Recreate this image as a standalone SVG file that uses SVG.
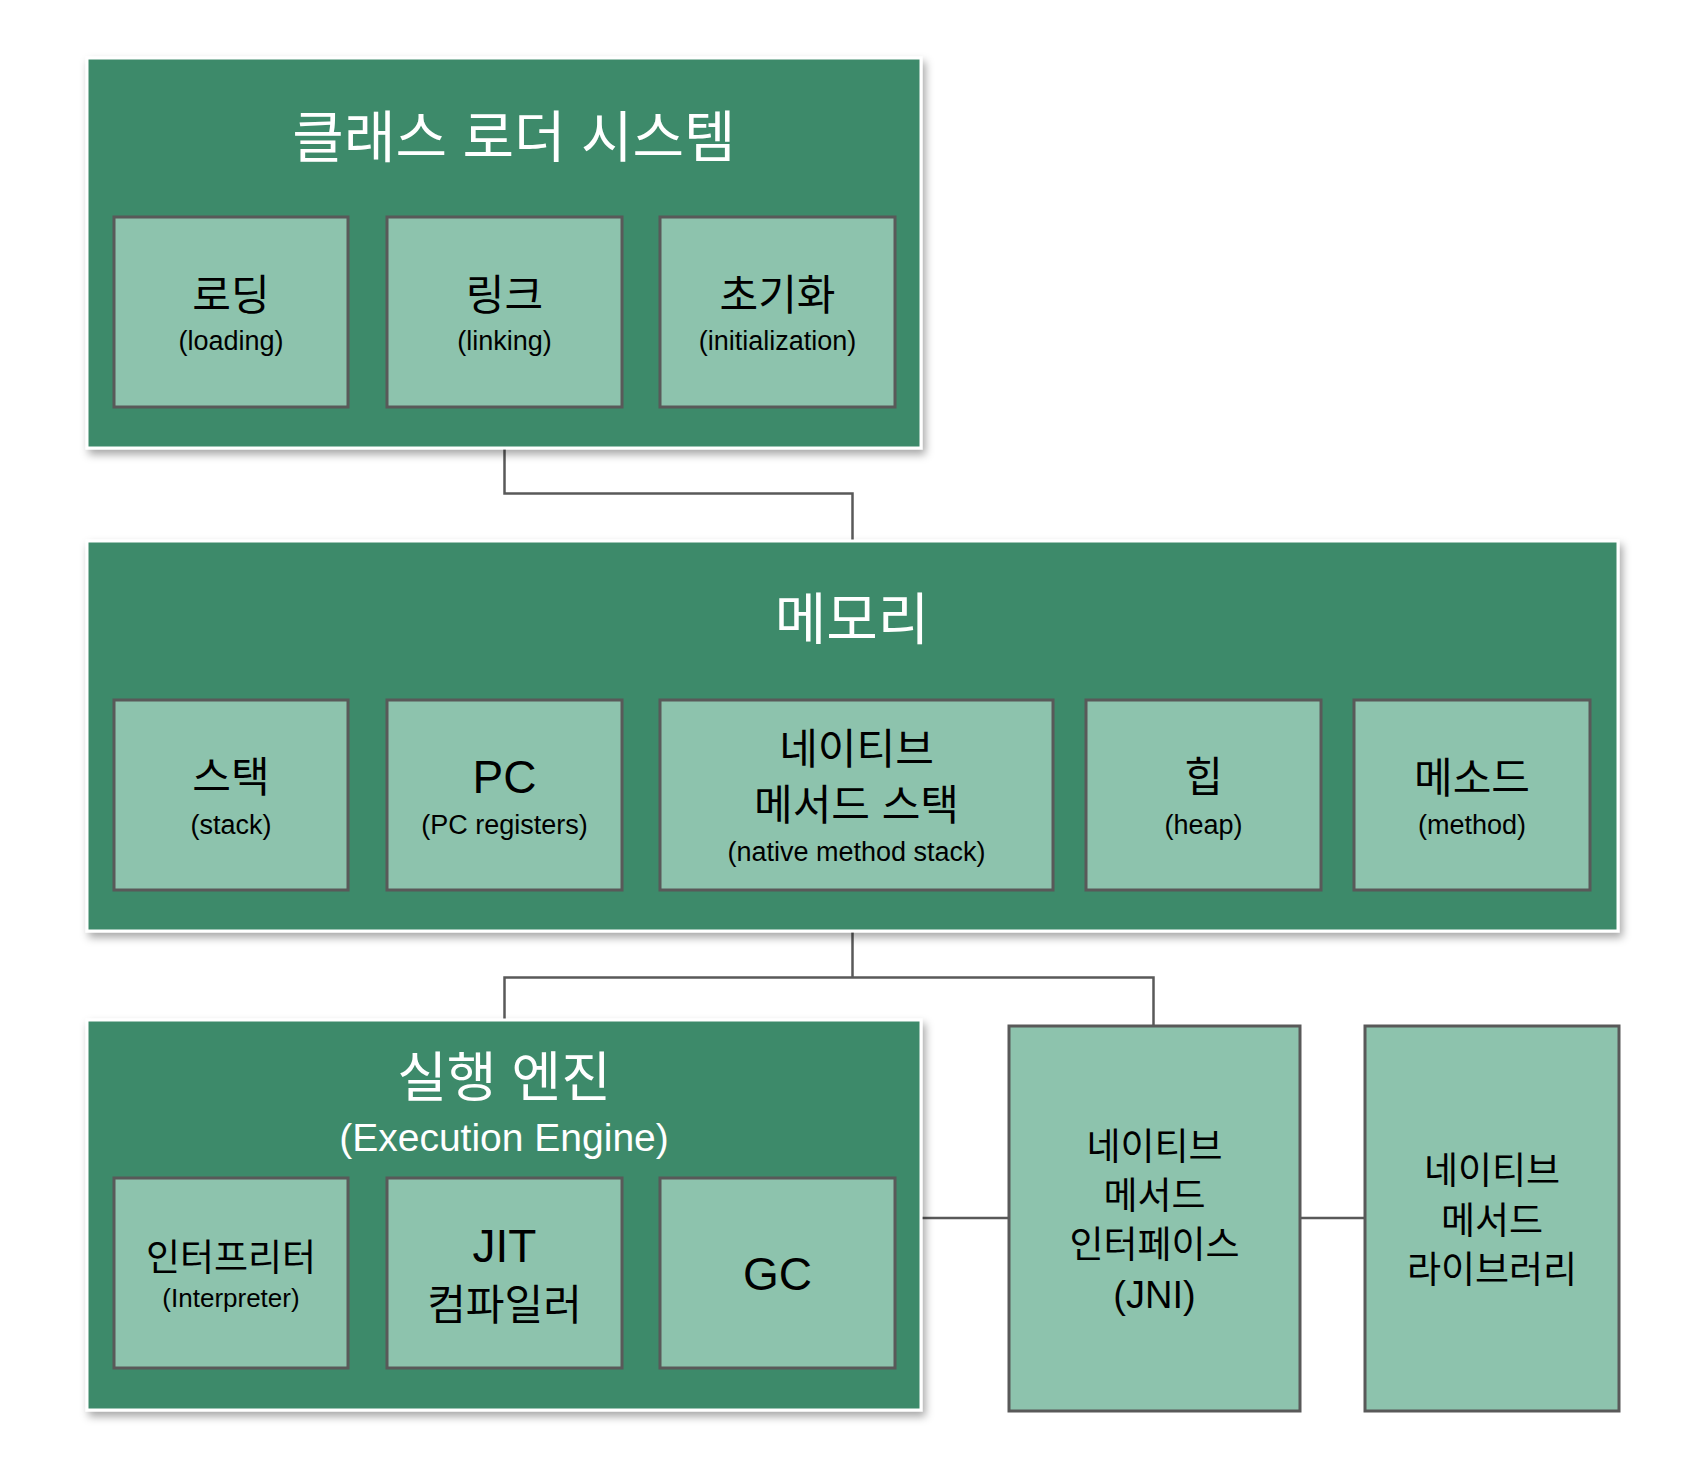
<svg xmlns="http://www.w3.org/2000/svg" width="1704" height="1480" viewBox="0 0 1704 1480">
<defs>
<filter id="sh" x="-5%" y="-5%" width="112%" height="115%">
<feDropShadow dx="3" dy="5" stdDeviation="4" flood-color="#000" flood-opacity="0.35"/>
</filter>
<style>
.outer{fill:#3c8a6a;stroke:#fff;stroke-width:3;filter:url(#sh)}
.inner{fill:#8dc3ad;stroke:#595959;stroke-width:3}
.conn{fill:none;stroke:#595959;stroke-width:2.5}
text{font-family:"Liberation Sans","Noto Sans CJK KR",sans-serif;text-anchor:middle;fill:#000}
.title{fill:#fff;font-size:56px}
.sub{fill:#fff;font-size:39px}
.ko{font-size:42px}
.en{font-size:27px}
.big{font-size:46px}
.ko2{font-size:37px}
.en2{font-size:26px}
</style>
</defs>
<rect width="1704" height="1480" fill="#fff"/>
<g id="connectors">
<path class="conn" d="M504.5 449 V493.5 H852.5 V540"/>
<path class="conn" d="M852.5 932 V977.5"/>
<path class="conn" d="M504.5 1019 V977.5 H1153.5 V1026"/>
<path class="conn" d="M922 1218 H1009"/>
<path class="conn" d="M1300 1218 H1365"/>
</g>
<g id="class-loader">
<rect class="outer" x="87" y="58" width="834" height="390"/>
<text class="title" x="514" y="157">클래스 로더 시스템</text>
</g>
<g id="loading">
<rect class="inner" x="114" y="217" width="234" height="190"/>
<text class="ko" x="231" y="310">로딩</text>
<text class="en" x="231" y="350">(loading)</text>
</g>
<g id="linking">
<rect class="inner" x="387" y="217" width="235" height="190"/>
<text class="ko" x="504.5" y="310">링크</text>
<text class="en" x="504.5" y="350">(linking)</text>
</g>
<g id="initialization">
<rect class="inner" x="660" y="217" width="235" height="190"/>
<text class="ko" x="777.5" y="310">초기화</text>
<text class="en" x="777.5" y="350">(initialization)</text>
</g>
<g id="memory">
<rect class="outer" x="87" y="541" width="1531" height="390"/>
<text class="title" x="852" y="639">메모리</text>
</g>
<g id="stack">
<rect class="inner" x="114" y="700" width="234" height="190"/>
<text class="ko" x="231" y="792">스택</text>
<text class="en" x="231" y="834">(stack)</text>
</g>
<g id="pc">
<rect class="inner" x="387" y="700" width="235" height="190"/>
<text class="big" x="504.5" y="793">PC</text>
<text class="en" x="504.5" y="834">(PC registers)</text>
</g>
<g id="native-method-stack">
<rect class="inner" x="660" y="700" width="393" height="190"/>
<text class="ko" x="856.5" y="764">네이티브</text>
<text class="ko" x="856.5" y="820">메서드 스택</text>
<text class="en" x="856.5" y="861">(native method stack)</text>
</g>
<g id="heap">
<rect class="inner" x="1086" y="700" width="235" height="190"/>
<text class="ko" x="1203.5" y="792">힙</text>
<text class="en" x="1203.5" y="834">(heap)</text>
</g>
<g id="method">
<rect class="inner" x="1354" y="700" width="236" height="190"/>
<text class="ko" x="1472" y="793">메소드</text>
<text class="en" x="1472" y="834">(method)</text>
</g>
<g id="execution-engine">
<rect class="outer" x="87" y="1020" width="834" height="390"/>
<text class="title" x="504" y="1097" style="font-size:54px">실행 엔진</text>
<text class="sub" x="504" y="1151">(Execution Engine)</text>
</g>
<g id="interpreter">
<rect class="inner" x="114" y="1178" width="234" height="190"/>
<text class="ko2" x="231" y="1271">인터프리터</text>
<text class="en2" x="231" y="1307">(Interpreter)</text>
</g>
<g id="jit">
<rect class="inner" x="387" y="1178" width="235" height="190"/>
<text class="big" x="504.5" y="1262">JIT</text>
<text class="ko" x="504.5" y="1320">컴파일러</text>
</g>
<g id="gc">
<rect class="inner" x="660" y="1178" width="235" height="190"/>
<text class="big" x="777.5" y="1290">GC</text>
</g>
<g id="jni">
<rect class="inner" x="1009" y="1026" width="291" height="385"/>
<text class="ko2" x="1154.5" y="1160">네이티브</text>
<text class="ko2" x="1154.5" y="1209">메서드</text>
<text class="ko2" x="1154.5" y="1258">인터페이스</text>
<text class="ko2" x="1154.5" y="1308" style="font-size:38px">(JNI)</text>
</g>
<g id="native-library">
<rect class="inner" x="1365" y="1026" width="254" height="385"/>
<text class="ko2" x="1492" y="1184">네이티브</text>
<text class="ko2" x="1492" y="1234">메서드</text>
<text class="ko2" x="1492" y="1283">라이브러리</text>
</g>
</svg>
